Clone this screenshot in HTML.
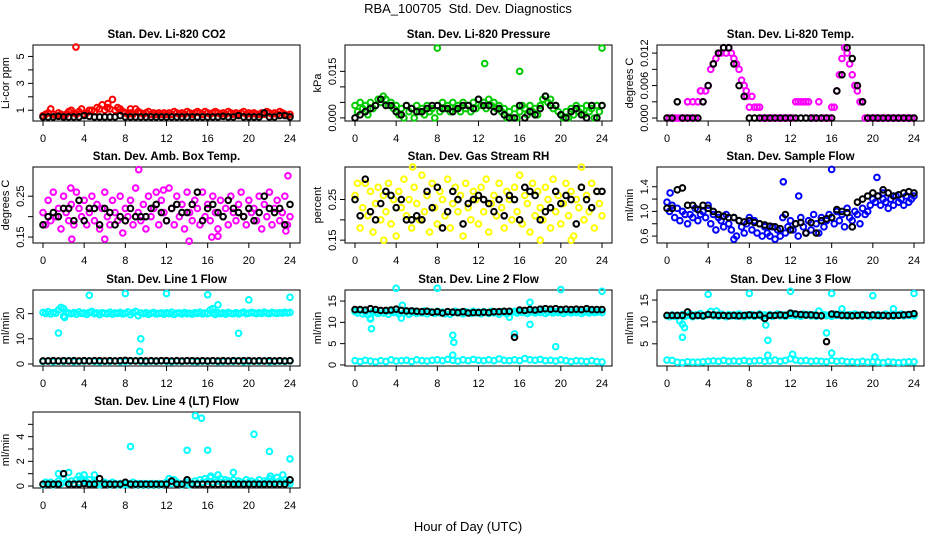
<!DOCTYPE html>
<html><head><meta charset="utf-8"><style>
html,body{margin:0;padding:0;background:#fff;}
svg{display:block;font-family:"Liberation Sans Narrow","Liberation Sans",sans-serif;}
</style></head><body>
<svg id="chart" width="936" height="540" viewBox="0 0 936 540" xmlns="http://www.w3.org/2000/svg">
<text x="468" y="13" text-anchor="middle" font-size="13">RBA_100705&#160; Std. Dev. Diagnostics</text>
<text x="468" y="531" text-anchor="middle" font-size="13">Hour of Day (UTC)</text>
</svg>
<script>
const xTicks=[0,4,8,12,16,20,24];
// CO2
const co2Red=[0.6,0.7,0.8,1.1,0.7,0.6,0.8,0.7,0.6,0.7,0.9,1.0,0.8,0.7,0.9,1.1,0.7,0.8,1.0,1.0,0.9,1.2,1.1,1.4,1.0,1.2,1.1,1.8,1.0,1.2,1.1,0.9,0.8,0.7,0.8,0.7,1.1,0.9,0.8,0.7,0.8,0.9,0.7,0.8,0.7,0.8,0.7,0.8,0.7,0.8,0.7,0.9,0.8,0.7,0.8,0.7,0.9,0.8,0.7,0.8,0.9,0.8,0.7,0.9,0.8,0.7,0.8,0.9,0.8,0.7,0.8,0.7,0.9,0.8,0.7,0.8,0.7,0.8,0.9,0.7,0.8,0.7,0.8,0.7,0.7,0.8,0.7,0.9,0.8,0.7,0.8,0.7,0.9,0.8,0.7,0.6,0.7];
const co2Black=[0.5,0.5,0.5,0.55,0.5,0.5,0.5,0.5,0.6,0.55,0.5,0.5,0.5,0.5,0.5,0.6,0.5,0.5,0.5,0.5,0.5,0.5,0.5,0.5,0.5,0.5,0.5,0.5,0.5,0.5,0.5,0.5,0.5,0.5,0.5,0.55,0.5,0.5,0.6,0.5,0.5,0.5,0.5,0.8,0.5,0.5,0.6,0.6,0.5];
const co2Out=[[3.2,5.7],[8.5,1.1],[6.3,1.5]];
// Pressure
const presGreen=[0.004,0.002,0.005,0.003,0.004,0.001,0.005,0.003,0.004,0.006,0.005,0.007,0.006,0.004,0.005,0.003,0.004,0.001,0.003,0.000,0.004,0.002,0.003,0.000,0.004,0.002,0.003,0.001,0.004,0.002,0.003,0.000,0.004,0.002,0.005,0.003,0.004,0.002,0.005,0.003,0.004,0.002,0.005,0.003,0.004,0.002,0.005,0.003,0.006,0.004,0.005,0.003,0.006,0.004,0.005,0.003,0.004,0.002,0.003,0.000,0.002,0.000,0.003,0.000,0.002,0.004,0.003,0.001,0.004,0.002,0.003,0.001,0.004,0.006,0.007,0.005,0.006,0.003,0.004,0.002,0.001,0.000,0.002,0.000,0.003,0.001,0.004,0.002,0.003,0.001,0.004,0.002,0.003,0.000,0.004,0.002,0.004];
const presBlack=[0.000,0.001,0.002,0.003,0.004,0.006,0.004,0.004,0.002,0.001,0.004,0.003,0.002,0.002,0.003,0.004,0.004,0.003,0.003,0.002,0.003,0.004,0.004,0.003,0.006,0.004,0.004,0.002,0.003,0.001,0.000,0.000,0.004,0.000,0.002,0.001,0.003,0.007,0.004,0.004,0.001,0.000,0.002,0.003,0.001,0.000,0.004,0.000,0.004];
const presOut=[[8,0.0225],[12.6,0.0175],[16,0.015],[24,0.0225]];
// Li-820 temp
const tempMag=[0,0,0,0,0,0,0,0,0.003,0,0.003,0,0.003,0.005,0.003,0.005,0.006,0.009,0.010,0.011,0.012,0.012,0.013,0.012,0.013,0.012,0.011,0.010,0.009,0.007,0.006,0.004,0.002,0.004,0.002,0.002,0.002,0,0,0,0,0,0,0,0,0,0,0,0,0,0.003,0.003,0.003,0.003,0.003,0.003,0,0,0,0.003,0,0,0,0,0.002,0.002,0.005,0.008,0.011,0.013,0.012,0.010,0.008,0.006,0.005,0.003,0.003,0,0,0,0,0,0,0,0,0,0,0,0,0,0,0,0,0,0,0,0];
const tempBlack=[0,0,0.003,0,0,0,0,0.003,0.006,0.010,0.012,0.013,0.013,0.010,0.006,0.004,0,0,0,0,0,0,0,0,0,0,0,0,0,0,0,0,0,0.005,0.008,0.013,0.011,0.006,0.003,0,0,0,0,0,0,0,0,0,0];
const tempOut=[[2,0.003],[3.3,0.005],[7.7,0.005]];
// Amb box temp
const ambMag=[0.21,0.18,0.24,0.19,0.26,0.20,0.22,0.17,0.25,0.21,0.19,0.23,0.18,0.26,0.22,0.20,0.24,0.18,0.21,0.25,0.19,0.23,0.17,0.22,0.26,0.20,0.18,0.24,0.21,0.19,0.25,0.16,0.22,0.20,0.24,0.18,0.27,0.21,0.19,0.23,0.17,0.25,0.20,0.22,0.26,0.18,0.24,0.21,0.19,0.27,0.22,0.18,0.25,0.20,0.23,0.17,0.26,0.21,0.19,0.24,0.22,0.18,0.26,0.20,0.23,0.19,0.25,0.21,0.17,0.24,0.20,0.22,0.18,0.25,0.21,0.19,0.23,0.26,0.20,0.18,0.24,0.21,0.22,0.19,0.25,0.17,0.23,0.20,0.26,0.18,0.22,0.24,0.19,0.21,0.25,0.18,0.20];
const ambBlack=[0.18,0.2,0.21,0.2,0.22,0.22,0.19,0.24,0.19,0.22,0.22,0.18,0.22,0.21,0.18,0.20,0.19,0.22,0.2,0.2,0.2,0.22,0.23,0.21,0.19,0.22,0.23,0.21,0.21,0.23,0.26,0.19,0.22,0.23,0.21,0.20,0.24,0.22,0.21,0.20,0.22,0.19,0.21,0.25,0.22,0.21,0.22,0.18,0.23];
const ambOut=[[2.7,0.27],[2.8,0.145],[6,0.145],[9.3,0.315],[11.7,0.265],[14.2,0.14],[16.4,0.15],[17,0.152],[23.8,0.3],[23.6,0.165]];
// Gas stream RH
const rhYel=[0.26,0.29,0.18,0.23,0.29,0.21,0.27,0.17,0.24,0.28,0.20,0.26,0.22,0.29,0.19,0.25,0.16,0.27,0.23,0.30,0.21,0.25,0.18,0.28,0.24,0.20,0.31,0.22,0.26,0.17,0.29,0.23,0.19,0.27,0.25,0.21,0.30,0.18,0.24,0.28,0.22,0.26,0.16,0.29,0.23,0.20,0.27,0.25,0.19,0.28,0.22,0.30,0.17,0.24,0.26,0.21,0.29,0.23,0.18,0.27,0.25,0.20,0.28,0.22,0.31,0.19,0.26,0.24,0.17,0.29,0.21,0.27,0.23,0.20,0.28,0.25,0.18,0.30,0.22,0.26,0.19,0.24,0.29,0.21,0.27,0.16,0.25,0.23,0.28,0.20,0.26,0.22,0.29,0.18,0.27,0.24,0.21];
const rhBlack=[0.25,0.21,0.3,0.22,0.2,0.24,0.27,0.26,0.23,0.25,0.2,0.2,0.21,0.2,0.27,0.23,0.28,0.18,0.22,0.27,0.25,0.19,0.24,0.25,0.26,0.25,0.24,0.22,0.25,0.21,0.26,0.25,0.2,0.28,0.27,0.26,0.2,0.22,0.23,0.27,0.24,0.26,0.25,0.19,0.28,0.25,0.23,0.27,0.27];
const rhOut=[[2.8,0.15],[5.6,0.33],[18,0.15],[21,0.15],[22,0.33]];
// Sample flow
const flowBlue=[1.15,1.0,1.1,0.9,1.05,0.85,1.0,0.95,0.8,0.95,0.9,1.05,0.85,0.95,1.0,0.9,1.1,0.8,0.95,0.7,0.9,0.85,0.75,0.95,0.8,0.7,0.9,0.6,0.85,0.75,0.65,0.8,0.9,0.7,0.85,0.65,0.8,0.6,0.75,0.65,0.6,0.75,0.55,0.7,0.6,0.9,0.65,0.75,0.85,0.7,0.8,0.6,0.9,0.75,0.65,0.85,0.7,0.95,0.8,0.65,0.9,0.75,0.85,0.95,0.9,0.8,1.0,0.85,0.95,0.75,1.05,0.9,0.85,1.0,0.95,0.8,1.05,0.95,1.0,1.1,1.2,1.15,1.25,1.1,1.2,1.15,1.05,1.2,1.1,1.25,1.15,1.2,1.1,1.25,1.15,1.2,1.25];
const flowBlack=[1.05,1.05,1.35,1.38,1.1,1.1,1.03,1.1,1.05,1.0,0.95,0.92,0.9,0.9,0.85,0.83,0.85,0.82,0.8,0.78,0.76,0.75,0.72,0.95,0.7,0.8,0.82,0.65,0.82,0.65,0.85,0.88,0.9,1.03,1.0,0.98,0.75,1.15,1.2,1.25,1.3,1.25,1.35,1.3,1.25,1.27,1.3,1.32,1.3];
const flowOut=[[11.3,1.48],[12.8,1.25],[16,1.68],[20.4,1.55],[21,1.3],[18,0.75],[6.5,0.55],[0.3,1.3]];
// Line 1
const l1High=[20.5,20.1,20.8,19.9,20.4,20.2,21.5,22.5,19,20.6,20.2,20.0,20.4,19.8,20.7,20.1,20.3,19.7,20.5,20.9,20.0,20.3,19.6,20.4,20.2,20.0,20.6,19.8,20.3,20.1,20.5,19.9,20.2,20.7,19.6,20.4,20.9,19.2,20.3,20.0,20.4,19.7,20.2,20.5,19.9,20.1,20.3,19.8,20.4,20.0,20.6,19.7,20.2,20.3,19.9,20.5,20.0,20.2,19.8,20.4,20.1,20.6,19.9,20.3,20.0,21.5,20.2,19.7,20.4,20.0,20.3,19.8,20.5,20.1,20.0,20.4,19.9,20.3,20.6,20.0,20.2,20.5,20.3,20.0,20.4,20.1,20.6,20.2,20.0,20.5,20.3,20.1,20.4,20.2,20.6,20.3,20.5];
const l1Low=[1.0,1.2,0.9,1.1,1.0,1.3,0.9,1.0,1.1,1.2,1.0,0.9,1.1,1.0,1.2,0.9,1.0,1.1,1.3,1.0,0.9,1.1,1.0,1.2,1.0,0.9,1.1,1.0,1.2,1.0,0.9,1.1,1.0,1.2,0.9,1.0,1.1,1.0,1.3,0.9,1.0,1.1,1.0,1.2,0.9,1.0,1.1,1.0,1.2];
const l1Black=[1.2,1.2,1.3,1.2,1.3,1.2,1.3,1.2,1.3,1.2,1.3,1.3,1.2,1.3,1.2,1.3,1.4,1.3,1.2,1.3,1.2,1.3,1.2,1.3,1.3,1.2,1.3,1.2,1.3,1.3,1.2,1.3,1.2,1.3,1.2,1.3,1.2,1.3,1.2,1.3,1.3,1.2,1.3,1.2,1.3,1.2,1.3,1.2,1.3];
const l1Out=[[1.5,12.3],[2,22],[2.1,18.5],[4.5,27.3],[8,28],[9.5,10],[9.4,5],[12,28],[16,27.5],[16.5,22],[17,23.5],[19,12.2],[20,25.5],[24,26.5]];
// Line 2
const l2High=[12.5,12.2,12.8,12.0,12.4,11.8,10.8,12.6,12.3,12.1,12.7,12.2,12.5,11.9,12.6,12.3,12.4,12.0,12.8,12.2,12.5,11.9,12.3,12.6,12.1,12.4,12.2,12.7,12.0,12.5,12.3,12.1,12.6,12.2,12.4,12.0,12.5,11.9,12.3,12.6,12.2,12.4,12.0,12.5,12.3,12.1,12.6,12.2,12.4,12.0,12.5,12.3,12.1,12.6,12.2,12.4,11.9,12.5,12.3,12.0,11.2,12.4,12.6,12.2,12.5,12.3,12.7,12.1,12.4,12.6,12.2,12.5,12.3,12.8,12.1,12.4,12.6,12.2,12.5,12.3,12.7,12.1,12.4,12.6,12.2,12.5,12.3,12.7,12.1,12.4,12.6,12.2,12.5,12.3,12.4,12.6,12.3];
const l2Low=[1.0,0.8,1.1,0.9,0.7,1.0,0.8,1.2,0.9,1.0,1.1,0.8,1.2,1.0,0.9,1.1,1.2,1.0,1.3,1.1,0.9,1.2,1.0,1.3,1.1,1.0,1.2,1.0,1.4,1.1,1.0,1.2,1.0,1.5,1.2,1.1,1.3,1.0,1.1,0.9,1.2,1.0,0.8,1.0,0.9,0.8,1.0,0.8,0.7];
const l2Black=[13.0,13.0,12.9,13.2,13.0,12.8,12.8,12.9,13.1,12.8,12.7,12.7,12.6,12.5,12.6,12.4,12.5,12.2,12.5,12.4,12.3,12.5,12.2,12.3,12.3,12.4,12.3,12.5,12.5,12.6,12.6,6.5,12.9,12.8,13.0,12.9,13.1,13.2,13.1,13.2,13.0,13.1,13.0,13.1,13.0,13.2,13.0,13.0,13.0];
const l2Out=[[1.5,11],[1.6,8.5],[4,18],[4.5,11],[4.6,14],[8,18],[9.5,7],[9.6,5.3],[9.5,2.3],[12,18.5],[15.5,7.3],[16,18.5],[17,9.5],[17,14.7],[19.5,4.3],[20,17.7],[24,17.3]];
// Line 3
const l3High=[11.4,11.2,11.6,11.3,11.5,10.2,11.7,11.3,11.5,11.8,11.2,11.6,11.4,11.9,11.3,11.5,11.7,12.4,11.4,11.6,11.3,11.8,11.5,11.2,11.7,11.4,11.6,11.3,11.8,11.5,11.2,11.6,11.4,11.7,11.3,11.5,11.8,11.2,11.6,11.4,11.7,11.3,11.5,11.8,11.4,11.6,11.3,11.7,11.5,11.9,11.4,11.6,11.3,11.8,11.5,11.7,11.4,11.6,11.3,12.5,11.5,11.7,11.4,11.6,11.3,11.8,11.5,11.7,11.4,11.6,11.3,11.7,11.5,11.8,11.4,11.6,11.3,11.7,11.5,11.2,11.6,11.4,11.7,11.3,11.5,11.8,11.4,11.6,11.3,11.7,11.5,11.8,11.4,11.6,11.5,11.7,11.4];
const l3Low=[1.3,1.2,0.8,0.7,0.9,0.8,0.8,0.9,1.0,1.1,1.0,1.2,1.0,1.1,1.0,1.2,1.0,1.1,1.2,1.0,1.1,1.3,1.0,1.2,1.6,1.3,1.1,1.2,1.0,1.1,1.0,0.9,1.2,1.0,1.1,0.9,0.9,0.8,1.0,0.8,0.9,0.8,0.7,0.9,0.8,0.7,0.8,0.9,0.9];
const l3Black=[11.5,11.5,11.5,11.5,12.3,11.4,11.5,11.4,11.7,11.6,11.5,11.5,11.4,11.5,11.4,11.5,11.6,11.5,11.6,10.8,11.5,11.5,11.6,11.5,12.0,11.8,11.7,11.6,11.6,11.5,11.4,5.5,11.8,11.7,11.5,11.5,11.4,11.5,11.6,11.5,11.6,11.5,11.5,11.4,11.5,11.5,11.6,11.7,11.9];
const l3Out=[[1.5,9.5],[1.5,6.5],[1.7,8.7],[4,16.3],[4.8,12.5],[8,16.5],[9.6,9.3],[9.8,5.8],[9.8,2.4],[12,17],[12.2,2.6],[15.5,7.5],[16,2.9],[16,16.5],[17,13],[20,16],[20.2,2],[22,13],[24,16.5]];
// Line 4
const l4Cyan=[0.1,0.3,0.2,0.3,0.1,0.2,0.4,0.2,0.6,0.3,0.2,0.4,0.2,0.5,0.3,0.6,0.4,0.3,0.5,0.2,0.3,0.2,0.1,0.2,0.3,0.2,0.1,0.3,0.2,0.1,0.2,0.1,0.2,0.1,0.2,0.3,0.1,0.2,0.1,0.2,0.1,0.2,0.1,0.2,0.1,0.2,0.1,0.2,0.3,0.6,0.2,0.5,0.3,0.2,0.1,0.2,0.3,0.1,0.2,0.4,0.2,0.5,0.3,0.6,0.4,0.7,0.3,0.5,0.4,0.6,0.3,0.5,0.4,0.3,0.5,0.2,0.4,0.3,0.2,0.5,0.3,0.4,0.2,0.3,0.5,0.2,0.4,0.3,0.6,0.4,0.3,0.7,0.4,0.3,0.5,0.3,0.2];
const l4Black=[0.15,0.15,0.15,0.15,1.0,0.15,0.15,0.15,0.2,0.15,0.15,0.6,0.15,0.15,0.15,0.15,0.3,0.15,0.15,0.15,0.15,0.15,0.15,0.15,0.15,0.4,0.15,0.15,0.5,0.15,0.15,0.15,0.15,0.15,0.15,0.15,0.15,0.15,0.15,0.15,0.15,0.15,0.15,0.15,0.15,0.15,0.15,0.15,0.5];
const l4Out=[[1.5,1],[2.5,1.1],[3.5,0.8],[4,0.9],[5,0.9],[8.5,3.2],[14,2.9],[14.8,5.7],[15.4,5.5],[16,2.9],[16.3,0.8],[17,0.9],[18.5,1.1],[20.5,4.2],[22,2.8],[22.1,0.8],[23.3,0.9],[24,2.2]];

const CYAN='#00ffff';
const panels=[
 {name:'co2',title:'Stan. Dev. Li-820 CO2',ylab:'Li-cor ppm',col:0,row:0,ylim:[0.2,5.85],ticks:[1,2,3,4,5],labels:['1','','3','','5'],series:[[co2Red,'#ff0000'],[co2Black,'#000']],out:[co2Out,'#ff0000']},
 {name:'pressure',title:'Stan. Dev. Li-820 Pressure',ylab:'kPa',col:1,row:0,ylim:[-0.001,0.0235],ticks:[0,0.005,0.01,0.015],labels:['0.000','','','0.015'],series:[[presGreen,'#00cc00'],[presBlack,'#000']],out:[presOut,'#00cc00']},
 {name:'li820-temp',title:'Stan. Dev. Li-820 Temp.',ylab:'degrees C',col:2,row:0,ylim:[-0.00055,0.0135],ticks:[0,0.003,0.006,0.009,0.012],labels:['0.000','','0.006','','0.012'],series:[[tempMag,'#ff00ff'],[tempBlack,'#000']],out:[tempOut,'#ff00ff']},
 {name:'amb-box-temp',title:'Stan. Dev. Amb. Box Temp.',ylab:'degrees C',col:0,row:1,ylim:[0.1355,0.3215],ticks:[0.15,0.2,0.25],labels:['0.15','','0.25'],series:[[ambMag,'#ff00ff'],[ambBlack,'#000']],out:[ambOut,'#ff00ff']},
 {name:'gas-stream-rh',title:'Stan. Dev. Gas Stream RH',ylab:'percent',col:1,row:1,ylim:[0.143,0.33],ticks:[0.15,0.2,0.25],labels:['0.15','','0.25'],series:[[rhYel,'#ffff00'],[rhBlack,'#000']],out:[rhOut,'#ffff00']},
 {name:'sample-flow',title:'Stan. Dev. Sample Flow',ylab:'ml/min',col:2,row:1,ylim:[0.488,1.72],ticks:[0.6,0.8,1.0,1.2,1.4],labels:['0.6','','1.0','','1.4'],series:[[flowBlue,'#0000ff'],[flowBlack,'#000']],out:[flowOut,'#0000ff']},
 {name:'line1-flow',title:'Stan. Dev. Line 1 Flow',ylab:'ml/min',col:0,row:2,ylim:[-0.8,29.4],ticks:[0,10,20],labels:['0','10','20'],series:[[l1High,CYAN],[l1Low,CYAN],[l1Black,'#000']],out:[l1Out,CYAN]},
 {name:'line2-flow',title:'Stan. Dev. Line 2 Flow',ylab:'ml/min',col:1,row:2,ylim:[-0.25,17.6],ticks:[0,5,10,15],labels:['0','5','10','15'],series:[[l2High,CYAN],[l2Low,CYAN],[l2Black,'#000']],out:[l2Out,CYAN]},
 {name:'line3-flow',title:'Stan. Dev. Line 3 Flow',ylab:'ml/min',col:2,row:2,ylim:[-0.07,17.3],ticks:[5,10,15],labels:['5','10','15'],series:[[l3High,CYAN],[l3Low,CYAN],[l3Black,'#000']],out:[l3Out,CYAN]},
 {name:'line4-flow',title:'Stan. Dev. Line 4 (LT) Flow',ylab:'ml/min',col:0,row:3,ylim:[-0.16,6.0],ticks:[0,1,2,3,4,5],labels:['0','','2','','4',''],series:[[l4Cyan,CYAN],[l4Black,'#000']],out:[l4Out,CYAN]}
];
const svg=document.getElementById('chart');
const NS='http://www.w3.org/2000/svg';
function mk(tag,attrs,parent){const e=document.createElementNS(NS,tag);for(const k in attrs)e.setAttribute(k,attrs[k]);parent.appendChild(e);return e;}
const colL=[33,345,657], rowT=[45,167,290,412], W=267, H=76;
panels.forEach(p=>{
  const L=colL[p.col],T=rowT[p.row],B=T+H;
  const g=mk('g',{},svg);
  
  
  const xs=v=>L+10+v/24*(W-20);
  const ys=v=>B-(v-p.ylim[0])/(p.ylim[1]-p.ylim[0])*H;
  const t=mk('text',{x:L+W/2,y:T-7,'text-anchor':'middle','font-size':'11.5','font-weight':'bold'},g);
  t.textContent=p.title;
  
  
  const box=mk('rect',{x:L,y:T,width:W,height:H,fill:'none',stroke:'#000','stroke-width':1},g);
  
  
  mk('line',{x1:xs(0),x2:xs(24),y1:B,y2:B,stroke:'#000'},g);
  xTicks.forEach(v=>{
    mk('line',{x1:xs(v),x2:xs(v),y1:B,y2:B+5,stroke:'#000'},g);
    const tl=mk('text',{x:xs(v),y:B+21,'text-anchor':'middle','font-size':'11'},g);
    tl.textContent=String(v);
    
    
  });
  p.ticks.forEach((v,i)=>{
    const y=ys(v);
    mk('line',{x1:L-5,x2:L,y1:y,y2:y,stroke:'#000'},g);
    if(p.labels[i]){
      const yl=mk('text',{x:L-9,y:y,'text-anchor':'middle','font-size':'11',transform:`rotate(-90 ${L-9} ${y})`},g);
      yl.textContent=p.labels[i];
      
      
    }
  });
  const yt=mk('text',{x:L-24,y:(T+B)/2,'text-anchor':'middle','font-size':'11',transform:`rotate(-90 ${L-24} ${(T+B)/2})`},g);
  yt.textContent=p.ylab;
  
  
  const drawPt=(x,y,c)=>{
    const cy=ys(y); if(cy<T-3||cy>B+3) return;
    const pt=mk('circle',{cx:xs(x),cy:cy,r:2.8,fill:'none',stroke:c,'stroke-width':2},g);
    
    
  };
  const [od,oc]=p.out;
  od.forEach(([x,y])=>drawPt(x,y,oc));
  p.series.forEach(([arr,c])=>{
    const n=arr.length;
    arr.forEach((v,i)=>drawPt(i*24/(n-1),v,c));
  });
});
</script>
</body></html>
